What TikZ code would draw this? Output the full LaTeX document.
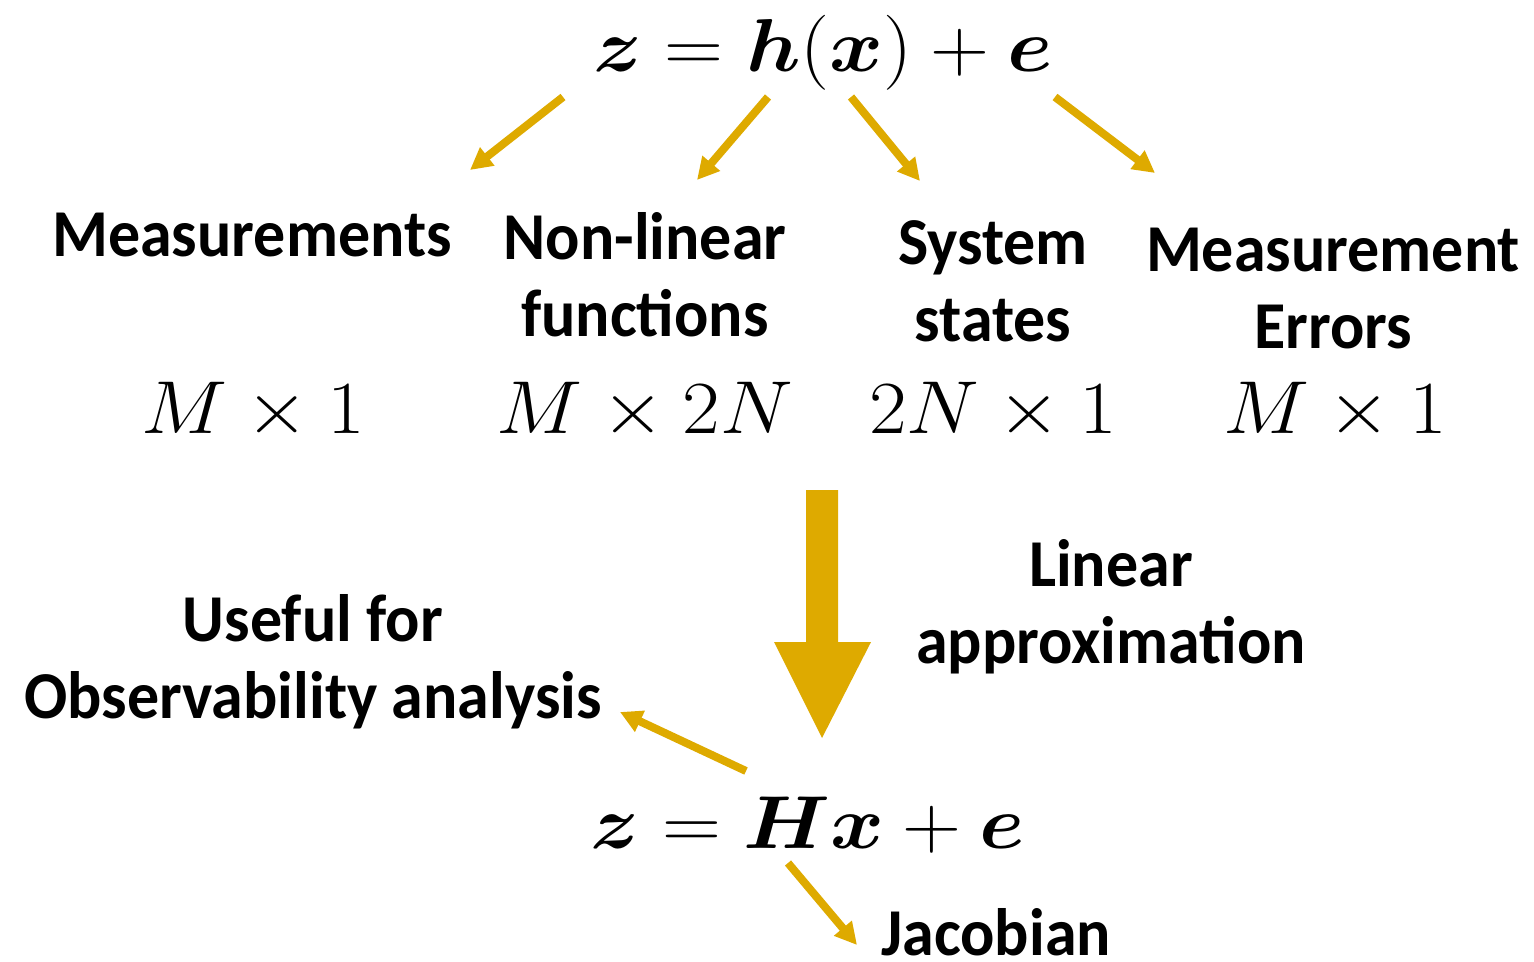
\documentclass[tikz,border=0pt]{standalone}
\usepackage{fix-cm}
\usepackage{amsmath}
\usepackage{graphicx}
\usepackage[no-math]{fontspec}
\setmainfont{Carlito}[FakeStretch=0.955]
\usetikzlibrary{arrows.meta}
\definecolor{gold}{RGB}{222,170,0}
\newcommand{\wideeq}[1]{\scalebox{1.09}[1]{$#1$}}
\tikzset{
  lbl/.style={font=\fontsize{33.5}{38.5}\selectfont\bfseries, align=center, inner sep=0pt},
  mth/.style={font=\fontsize{37.5}{45}\selectfont, inner sep=0pt, anchor=base},
  arr/.style={draw=gold, line width=4pt, -{Triangle[length=11pt,width=11pt]}}
}
\begin{document}
\begin{tikzpicture}[x=0.5pt,y=-0.5pt]
    \useasboundingbox(0,0)rectangle(1534,962);
    \node[mth](eqnl) at(823,72){\wideeq{\boldsymbol{z}=\boldsymbol{h}(\boldsymbol{x})+\boldsymbol{e}}};
    \node[lbl](meas) at(252,235){Measurements};
    \node[lbl](func) at(645,275){Non-linear\\functions};
    \node[lbl](stat) at(993,281){System\\states};
    \node[lbl](errs) at(1333,289){Measurement\\Errors};
    \node[mth](dmeas) at(253,433){\wideeq{M\times 1}};
    \node[mth](dfunc) at(645,433){\wideeq{M\times 2N}};
    \node[mth](dstat) at(993,433){\wideeq{2N\times 1}};
    \node[mth](derrs) at(1335,433){\wideeq{M\times 1}};
    \node[lbl](lin) at(1111,607){Linear\\approximation};
    \node[lbl](use) at(313,662){Useful for\\Observability analysis};
    \node[mth](eqlin) at(808,848){\wideeq{\boldsymbol{z}=\boldsymbol{H}\boldsymbol{x}+\boldsymbol{e}}};
    \node[lbl,anchor=base,text depth=0pt](jac) at(996,955){Jacobian};
    \coordinate(s1) at(563,97);  \coordinate(t1) at(470,170);
    \coordinate(s2) at(768,97);  \coordinate(t2) at(697,180);
    \coordinate(s3) at(851,97);  \coordinate(t3) at(920,181);
    \coordinate(s4) at(1055,97); \coordinate(t4) at(1155,173);
    \coordinate(s5) at(746,771); \coordinate(t5) at(620,712);
    \coordinate(s6) at(788,863); \coordinate(t6) at(857,945);
    \foreach \i in {1,...,6}
        \draw[arr](s\i)--(t\i);
    \fill[gold](806,490)--(838,490)--(838,642)--(871,642)--(822,738)--(774,642)--(806,642)--cycle;
\end{tikzpicture}
\end{document}
